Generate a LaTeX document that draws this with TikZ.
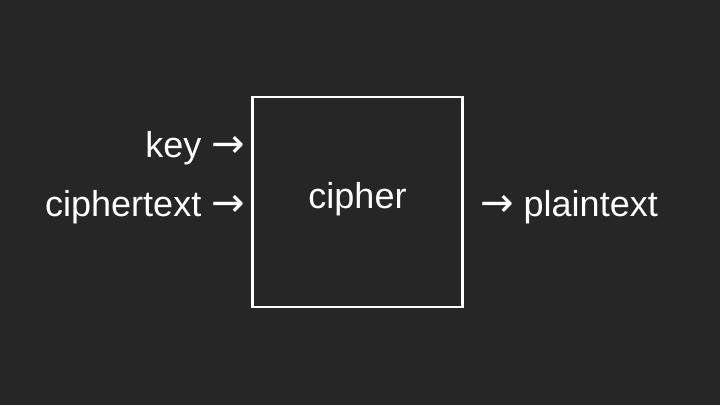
\documentclass[tikz,border=0pt]{standalone}
\usepackage{fontspec}
\setmainfont{Liberation Sans}
\newfontfamily\arrowfont{DejaVu Sans}
\usetikzlibrary{positioning}
\definecolor{slidebg}{HTML}{262626}
\newcommand{\rarr}{{\arrowfont\fontsize{40}{44}\selectfont →}}
\tikzset{
  lbl/.style={text=white, font=\fontsize{36}{40}\selectfont, inner sep=0pt},
  cipherbox/.style={draw=white, line width=2.5pt, minimum width=210pt, minimum height=210pt, lbl}
}
\begin{document}
\begin{tikzpicture}[x=1pt, y=-1pt]
      % Background
      \fill[slidebg] (0,0) rectangle (720,405);
      \useasboundingbox (0,0) rectangle (720,405);

      % Cipher block
      \node[cipherbox] (cipher) at (357.5,202) {\raisebox{-6pt}[0pt][0pt]{cipher}};

      % Inputs and output
      \node[lbl, anchor=east] (key) at (245,148) {key \rarr};
      \node[lbl, anchor=east] (ctext) at (245,207) {ciphertext \rarr};
      \node[lbl, anchor=west] (ptext) at (480,207) {\rarr{} plaintext};
\end{tikzpicture}
\end{document}
